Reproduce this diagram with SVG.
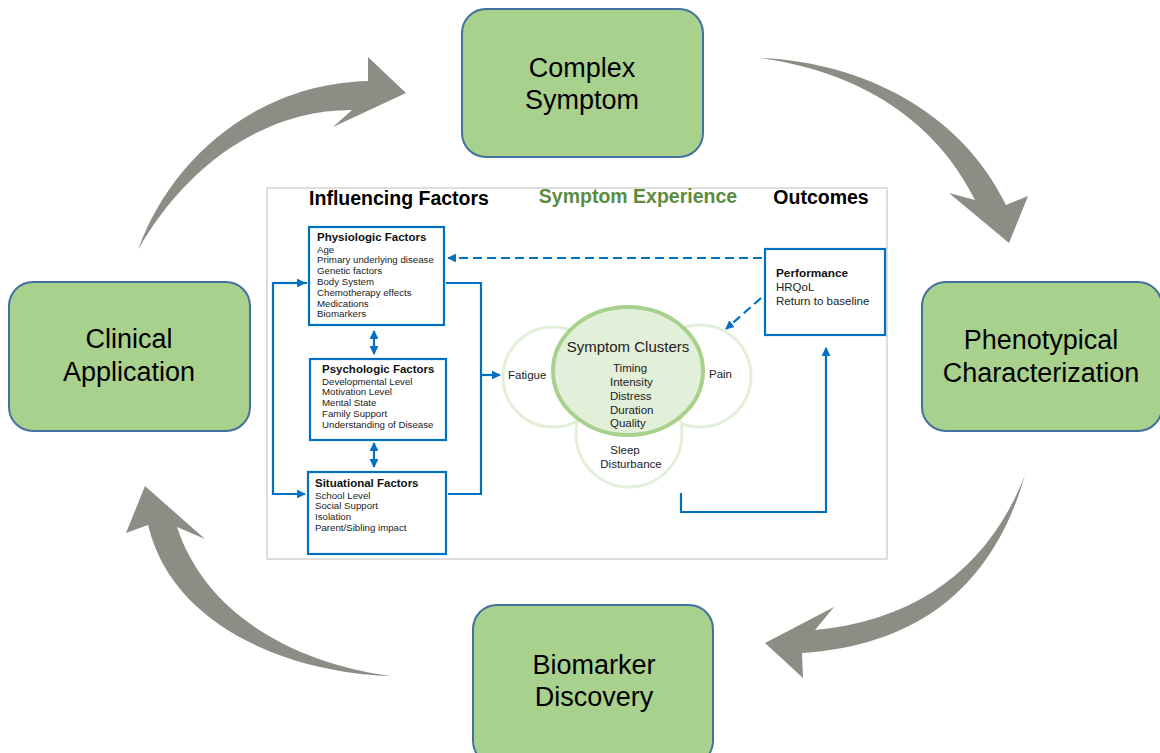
<svg xmlns="http://www.w3.org/2000/svg" width="1160" height="753" viewBox="0 0 1160 753">
  <style>
    .stage { fill: #A9D18E; stroke: #41719C; stroke-width: 2; }
    .stage-label { font-family: "Liberation Sans", Arial, sans-serif; font-size: 27px; fill: #000; text-anchor: middle; }
    .cycle { fill: #8C8D85; }
    .panel { fill: #fff; stroke: #C8C8C8; stroke-width: 1.2; }
    .head { font-family: "Liberation Sans", Arial, sans-serif; font-size: 19.5px; font-weight: bold; fill: #000; text-anchor: middle; }
    .box { fill: #fff; stroke: #0070C0; stroke-width: 2.2; }
    .bt { font-family: "Liberation Sans", Arial, sans-serif; font-size: 11.5px; font-weight: bold; fill: #111; }
    .it { font-family: "Liberation Sans", Arial, sans-serif; font-size: 9.7px; fill: #222; }
    .ot { font-family: "Liberation Sans", Arial, sans-serif; font-size: 11.5px; fill: #222; }
    .ct { font-family: "Liberation Sans", Arial, sans-serif; font-size: 11.5px; fill: #222; }
    .ring { fill: #fff; stroke: #E2EFD9; stroke-width: 3; }
    .core { fill: #E2EFD9; stroke: #A9D18E; stroke-width: 4; }
    .link { fill: none; stroke: #0070C0; stroke-width: 2.2; }
    .dash { stroke-dasharray: 9 5; }
  </style>
  <defs>
    <marker id="ah" viewBox="0 0 10 10" refX="9" refY="5" markerWidth="4" markerHeight="4" orient="auto-start-reverse" markerUnits="strokeWidth">
      <path d="M0,0 L10,5 L0,10 Z" fill="#0070C0"/>
    </marker>
  </defs>

  <rect width="1160" height="753" fill="#fff"/>

  <!-- curved cycle arrows -->
  <g id="cycle-arrows">
    <path class="cycle" d="M138,250 C170,160 255,84 368,81 L368,57 L406,93 L333,127 L352,110 C258,110 182,172 138,250 Z"/>
    <path class="cycle" d="M760,58 C860,62 960,110 1006,205 L1028,196 L1009,243 L949,193 L975,200 C935,120 860,72 760,58 Z"/>
    <path class="cycle" d="M1025,475 C995,580 925,645 802,653 L803,678 L765,643 L834,607 L815,630 C920,620 990,565 1025,475 Z"/>
    <path class="cycle" d="M390,676 C285,672 172,625 148,525 L126,533 L145,486 L205,539 L177,527 C205,612 290,662 390,676 Z"/>
  </g>

  <!-- cycle stages -->
  <g id="complex-symptom">
    <rect class="stage" x="462" y="9" width="241" height="148" rx="24"/>
    <text class="stage-label" x="582" y="77">Complex</text>
    <text class="stage-label" x="582" y="109">Symptom</text>
  </g>
  <g id="phenotypical-characterization">
    <rect class="stage" x="922" y="282" width="240" height="149" rx="24"/>
    <text class="stage-label" x="1041" y="349">Phenotypical</text>
    <text class="stage-label" x="1041" y="382">Characterization</text>
  </g>
  <g id="biomarker-discovery">
    <rect class="stage" x="473" y="605" width="240" height="160" rx="24"/>
    <text class="stage-label" x="594" y="674">Biomarker</text>
    <text class="stage-label" x="594" y="706">Discovery</text>
  </g>
  <g id="clinical-application">
    <rect class="stage" x="9" y="282" width="241" height="149" rx="24"/>
    <text class="stage-label" x="129" y="348">Clinical</text>
    <text class="stage-label" x="129" y="381">Application</text>
  </g>

  <!-- symptom model panel -->
  <g id="model-panel">
    <rect class="panel" x="267" y="188" width="620" height="371"/>
    <text class="head" x="399" y="205">Influencing Factors</text>
    <text class="head" x="638" y="203" style="fill:#5B8C3E">Symptom Experience</text>
    <text class="head" x="821" y="204">Outcomes</text>
  </g>

  <g id="physiologic-factors">
    <rect class="box" x="309" y="227" width="135" height="98"/>
    <text class="bt" x="317" y="241">Physiologic Factors</text>
    <text class="it" x="317" y="252.5">Age</text>
    <text class="it" x="317" y="263.3">Primary underlying disease</text>
    <text class="it" x="317" y="274.1">Genetic factors</text>
    <text class="it" x="317" y="284.9">Body System</text>
    <text class="it" x="317" y="295.7">Chemotherapy effects</text>
    <text class="it" x="317" y="306.5">Medications</text>
    <text class="it" x="317" y="317.3">Biomarkers</text>
  </g>

  <g id="psychologic-factors">
    <rect class="box" x="310" y="359" width="136" height="81"/>
    <text class="bt" x="322" y="373">Psychologic Factors</text>
    <text class="it" x="322" y="384.5">Developmental Level</text>
    <text class="it" x="322" y="395.3">Motivation Level</text>
    <text class="it" x="322" y="406.1">Mental State</text>
    <text class="it" x="322" y="416.9">Family Support</text>
    <text class="it" x="322" y="427.7">Understanding of Disease</text>
  </g>

  <g id="situational-factors">
    <rect class="box" x="308" y="472" width="138" height="82"/>
    <text class="bt" x="315" y="487">Situational Factors</text>
    <text class="it" x="315" y="498.5">School Level</text>
    <text class="it" x="315" y="509.3">Social Support</text>
    <text class="it" x="315" y="520.1">Isolation</text>
    <text class="it" x="315" y="530.9">Parent/Sibling impact</text>
  </g>

  <g id="performance">
    <rect class="box" x="765" y="249" width="120" height="86"/>
    <text class="bt" x="776" y="277" style="font-size:11.8px">Performance</text>
    <text class="ot" x="776" y="291">HRQoL</text>
    <text class="ot" x="776" y="305">Return to baseline</text>
  </g>

  <g id="symptom-clusters">
    <circle class="ring" cx="553" cy="377" r="50"/>
    <circle class="ring" cx="700" cy="376" r="51"/>
    <circle class="ring" cx="629" cy="434" r="53"/>
    <ellipse class="core" cx="628" cy="371" rx="75" ry="64"/>
    <text class="ct" x="508" y="379">Fatigue</text>
    <text class="ct" x="709" y="378">Pain</text>
    <text class="ct" x="625" y="454" text-anchor="middle">Sleep</text>
    <text class="ct" x="631" y="468" text-anchor="middle">Disturbance</text>
    <text class="ct" x="628" y="352" text-anchor="middle" style="font-size:15px">Symptom Clusters</text>
    <text class="ct" x="613" y="372">Timing</text>
    <text class="ct" x="610" y="386">Intensity</text>
    <text class="ct" x="610" y="400">Distress</text>
    <text class="ct" x="610" y="413.5">Duration</text>
    <text class="ct" x="610" y="427">Quality</text>
  </g>

  <!-- blue connectors of the model -->
  <g id="connectors">
    <path class="link" d="M307,283 H273 V494 H305" marker-end="url(#ah)"/>
    <path class="link" d="M273,283 H305" marker-end="url(#ah)"/>
    <path class="link" d="M446,283 H481 V494 H448"/>
    <path class="link" d="M481,375 H500" marker-end="url(#ah)"/>
    <path class="link" d="M374,331 V354" marker-start="url(#ah)" marker-end="url(#ah)"/>
    <path class="link" d="M374,443 V467" marker-start="url(#ah)" marker-end="url(#ah)"/>
    <path class="link dash" d="M762,258 H448" marker-end="url(#ah)"/>
    <path class="link dash" d="M761,298 L726,329" marker-end="url(#ah)"/>
    <path class="link" d="M681,493 V512 H826 V348" marker-end="url(#ah)"/>
  </g>
</svg>
